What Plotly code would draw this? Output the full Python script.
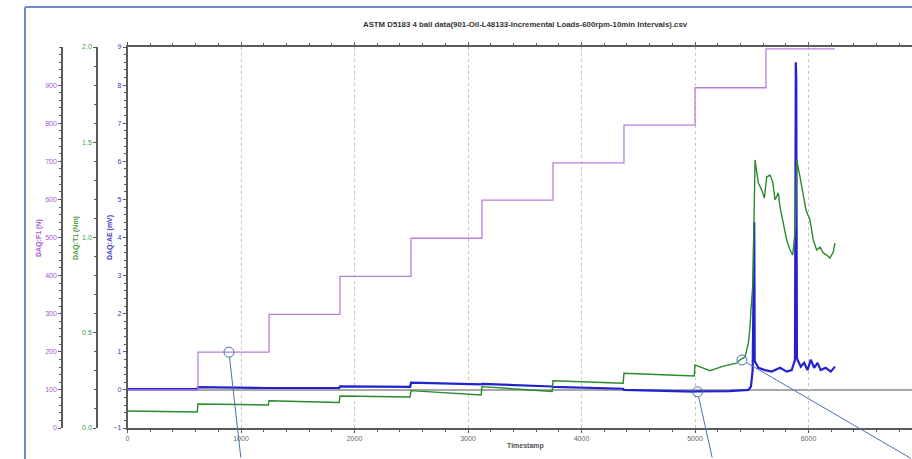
import plotly.graph_objects as go

W, H = 912, 459

TITLE = "ASTM D5183 4 ball data(901-Oil-L48133-Incremental Loads-600rpm-10min Intervals).csv"

# DAQ:F1 (N) - load steps every ~10 min
load_t = [0, 621, 1247, 1872, 2498, 3123, 3749, 4374, 5000, 5625, 6233]
load_n = [100, 199, 298, 398, 498, 598, 696, 795, 893, 995, 995]

# DAQ:T1 (Nm) - friction torque
torque_t = [0, 615, 621, 1240, 1247, 1865, 1872, 2490, 2498, 3115, 3123, 3742, 3749,
            4367, 4374, 4993, 5000, 5132, 5250, 5367, 5396, 5441, 5470, 5485, 5493,
            5508, 5514, 5520, 5529, 5558, 5588, 5611, 5632, 5661, 5685, 5705, 5734,
            5749, 5778, 5808, 5837, 5861, 5885, 5896, 5925, 5954, 5978, 6013, 6042,
            6072, 6101, 6130, 6160, 6189, 6218, 6233]
torque_nm = [0.089, 0.084, 0.126, 0.121, 0.143, 0.134, 0.168, 0.163, 0.196, 0.173,
             0.217, 0.192, 0.248, 0.235, 0.287, 0.273, 0.331, 0.301, 0.325, 0.340,
             0.357, 0.373, 0.446, 0.530, 0.619, 0.740, 0.882, 1.039, 1.407, 1.286,
             1.249, 1.207, 1.318, 1.328, 1.291, 1.197, 1.234, 1.160, 1.076, 0.987,
             0.934, 0.908, 1.05, 1.407, 1.318, 1.213, 1.144, 1.092, 0.987, 0.934,
             0.950, 0.919, 0.908, 0.892, 0.924, 0.971]

# DAQ:AE (mV) - acoustic emission
ae_t = [0, 615, 621, 1240, 1247, 1865, 1872, 2490, 2498, 3115, 3123, 3742, 3749, 4367,
        4374, 4993, 5000, 5300, 5470, 5493, 5508, 5522, 5526, 5535, 5558, 5617, 5676,
        5749, 5808, 5852, 5881, 5888, 5892, 5898, 5903, 5932, 5961, 5991, 6020, 6050,
        6079, 6108, 6152, 6196, 6233]
ae_mv = [0.02, 0.02, 0.07, 0.04, 0.05, 0.05, 0.09, 0.08, 0.19, 0.145, 0.16, 0.09, 0.08,
         0.03, 0.0, -0.045, -0.04, -0.03, 0.0, 0.09, 0.52, 4.4, 0.75, 0.71, 0.58, 0.52,
         0.48, 0.58, 0.48, 0.52, 0.79, 8.6, 8.2, 0.85, 0.79, 0.61, 0.71, 0.52, 0.79,
         0.58, 0.71, 0.52, 0.58, 0.48, 0.61]

x_ticks = [0, 1000, 2000, 3000, 4000, 5000, 6000]
load_ticks = [0, 100, 200, 300, 400, 500, 600, 700, 800, 900]

# callout circles: (timestamp, axis, value)
callouts = [(894, "y3", load_n[1]), (5022, "y", -0.05), (5414, "y2", 0.357)]
callout_tail = [(12, 125), (15, 100), (210, 101)]

PURPLE = "#b77fdc"
GREEN = "#2a8a2a"
BLUE = "#2222d0"
CALL = "#4a70b4"
AXIS = "#5a5a5a"
FONT = "Liberation Sans, Arial, sans-serif"

# plot box in pixels
px0, py_top, py_bot = 127.5, 47, 428
ydom = [(H - py_bot) / H, (H - py_top) / H]

fig = go.Figure()
fig.add_trace(go.Scatter(x=load_t, y=load_n, yaxis="y3", mode="lines", line_shape="hv",
                         line=dict(color=PURPLE, width=1.3), name="DAQ:F1"))
fig.add_trace(go.Scatter(x=torque_t, y=torque_nm, yaxis="y2", mode="lines",
                         line=dict(color=GREEN, width=1.4), name="DAQ:T1"))
fig.add_trace(go.Scatter(x=ae_t, y=ae_mv, yaxis="y", mode="lines",
                         line=dict(color=BLUE, width=2.2), name="DAQ:AE"))

tickfont = dict(family=FONT, size=7)
common_y = dict(domain=ydom, showline=True, linecolor=AXIS, linewidth=1.5, ticks="outside",
                ticklen=3, tickcolor=AXIS, showgrid=False, zeroline=False, automargin=False)

fig.update_layout(
    width=W, height=H, template="none", showlegend=False,
    margin=dict(l=0, r=0, t=0, b=0), paper_bgcolor="white", plot_bgcolor="white",
    xaxis=dict(domain=[px0 / W, 1], range=[0, (W - px0) / 0.1135], tickvals=x_ticks,
               showline=True, linecolor=AXIS, linewidth=1.5, mirror="ticks", ticks="outside",
               ticklen=3, tickcolor=AXIS, minor=dict(dtick=200, ticks="outside", ticklen=2,
                                                     tickcolor=AXIS),
               showgrid=True, gridcolor="#c4c4c4", griddash="dot", gridwidth=1,
               zeroline=False, tickfont=dict(tickfont, color="#666"), automargin=False),
    yaxis=dict(common_y, range=[-1, 9], dtick=1, tickfont=dict(tickfont, color="#3b3bc8"),
               minor=dict(dtick=0.2, ticks="outside", ticklen=2, tickcolor=AXIS)),
    yaxis2=dict(common_y, range=[0, 2], dtick=0.5, tickformat=".1f", overlaying="y",
                anchor="free", position=97 / W, tickfont=dict(tickfont, color="#3f9f3f"),
                minor=dict(dtick=0.1, ticks="outside", ticklen=2, tickcolor=AXIS)),
    yaxis3=dict(common_y, range=[0, 1000], tickvals=load_ticks, overlaying="y",
                anchor="free", position=62 / W, tickfont=dict(tickfont, color="#a45ad6"),
                minor=dict(dtick=20, ticks="outside", ticklen=2, tickcolor=AXIS)),
)

# zero reference line
fig.add_shape(type="line", xref="paper", yref="y", x0=px0 / W, x1=1, y0=0, y1=0,
              line=dict(color="#a8a8a8", width=2), layer="below")

# picture frame (left + top edges)
fy = 1 - 7 / H
fig.add_shape(type="line", xref="paper", yref="paper", x0=25 / W, x1=25 / W, y0=-0.01, y1=fy,
              line=dict(color="#6d8cc9", width=2))
fig.add_shape(type="line", xref="paper", yref="paper", x0=25 / W, x1=1.0, y0=fy, y1=fy,
              line=dict(color="#6d8cc9", width=2))

# titles
fig.add_annotation(text="<b>" + TITLE + "</b>", xref="paper", yref="paper", x=525 / W,
                   y=1 - 18 / H, showarrow=False, font=dict(family=FONT, size=7.8, color="#333"))
fig.add_annotation(text="<b>Timestamp</b>", xref="paper", yref="paper", x=525 / W,
                   y=1 - 452 / H, showarrow=False, font=dict(family=FONT, size=7, color="#555"))
for label, xp, col in [("DAQ:F1 (N)", 33, "#a45ad6"), ("DAQ:T1 (Nm)", 70, "#3f9f3f"),
                       ("DAQ:AE (mV)", 104, "#3b3bc8")]:
    fig.add_annotation(text="<b>" + label + "</b>", xref="paper", yref="paper", x=xp / W,
                       y=1 - 238 / H, textangle=-90, showarrow=False,
                       font=dict(family=FONT, size=7, color=col))

# callouts
for (t, yax, v), (ax, ay) in zip(callouts, callout_tail):
    fig.add_shape(type="circle", xref="x", yref=yax, xsizemode="pixel", ysizemode="pixel",
                  xanchor=t, yanchor=v, x0=-5, x1=5, y0=-5, y1=5,
                  line=dict(color=CALL, width=1))
    fig.add_annotation(x=t, y=v, xref="x", yref=yax, ax=ax, ay=ay, text="", showarrow=True,
                       arrowhead=0, arrowwidth=1, arrowcolor=CALL, standoff=5)

fig.write_html("out.html", config={"displayModeBar": False},
               post_script="document.body.style.margin='0';"
                           "document.body.style.overflow='hidden';"
                           "document.documentElement.style.overflow='hidden';")
